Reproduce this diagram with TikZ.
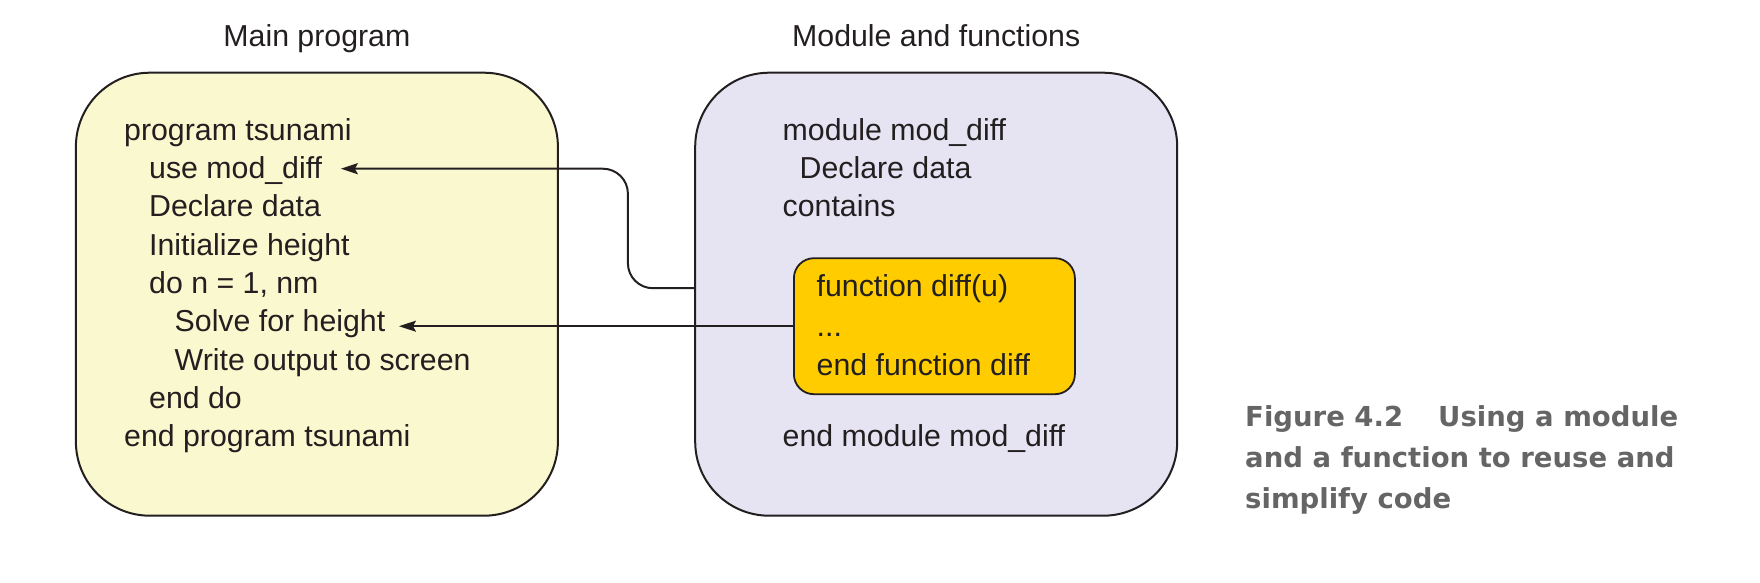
\documentclass[tikz,border=0pt]{standalone}
\usepackage{fontspec}
\setmainfont{Liberation Sans}
\newfontfamily\capfamily{DejaVu Sans}
\usepackage{tikz}
\usetikzlibrary{arrows.meta, positioning}
\definecolor{ink}{HTML}{231F20}
\definecolor{progfill}{HTML}{FAF8CE}
\definecolor{modfill}{HTML}{E6E4F2}
\definecolor{fnfill}{HTML}{FFCC00}
\definecolor{capgray}{HTML}{656565}
\newcommand{\codefont}{\fontsize{30.3}{38.3}\selectfont}
\tikzset{
  codeline/.style = {anchor=base west, inner sep=0pt, font=\codefont, text=ink},
  boxtitle/.style = {anchor=base, inner sep=0pt, font=\codefont, text=ink},
  bigbox/.style = {draw=ink, line width=2pt, rounded corners=74pt,
    minimum width=482pt, minimum height=443pt, inner sep=0pt},
  fnbox/.style = {draw=ink, line width=1.8pt, fill=fnfill, rounded corners=20pt,
    minimum width=281pt, minimum height=136pt, inner sep=0pt},
  flow/.style = {draw=ink, line width=2pt, rounded corners=25pt,
    -{Stealth[length=17pt, width=11pt, inset=3pt]}}
}

\begin{document}
\begin{tikzpicture}[x=1pt, y=-1pt]
\useasboundingbox (0,0) rectangle (1760,582);
% the two boxes
\node [bigbox, fill=progfill] (prog) at (316.9,294.2) {};
\node [bigbox, fill=modfill] (mod) at (936.2,294.2) {};
\node [fnbox] (fn) at (934.4,326.2) {};
\node [boxtitle] (progtitle) at ([yshift=25.7pt]prog.north) {Main program};
\node [boxtitle] (modtitle) at ([yshift=25.7pt]mod.north) {Module and functions};
% main program
\node [codeline] (start) at (124,140) {program tsunami};
\node [codeline] (use) at (149,178.3) {use mod\_diff};
\node [codeline] (decl) at (149,216.7) {Declare data};
\node [codeline] (init) at (149,255) {Initialize height};
\node [codeline] (loop) at (149,293.3) {do n = 1, nm};
\node [codeline] (solve) at (174.5,331.7) {Solve for height};
\node [codeline] (write) at (174.5,370) {Write output to screen};
\node [codeline] (endloop) at (149,408.3) {end do};
\node [codeline] (stop) at (124,446.7) {end program tsunami};
% module
\node [codeline] (modhead) at (782.5,140) {module mod\_diff};
\node [codeline] (moddecl) at (799.5,178.3) {Declare data};
\node [codeline] (contains) at (782.5,216.7) {contains};
\node [codeline] (fnhead) at (816.5,296.7) {function diff(u)};
\node [codeline] (fnbody) at (816.5,336) {...};
\node [codeline] (fnend) at (816.5,375) {end function diff};
\node [codeline] (modend) at (782.5,446.7) {end module mod\_diff};
% connectors
\draw [flow] ([yshift=6pt]mod.west) -- ++(-66.3,0)
  |- ([shift={(18.5pt,9.6pt)}]use.base east);
\draw [flow] (fn.west) -- ([xshift=13.5pt]solve.east |- fn.west);
% caption (base = last line)
\node [anchor=base west, inner sep=0pt, align=left, text=capgray,
  font=\capfamily\bfseries\fontsize{27.5}{41}\selectfont] (caption) at (1245,508)
  {Figure 4.2\hspace{35pt}Using a module\\and a function to reuse and\\simplify code};
\end{tikzpicture}
\end{document}
